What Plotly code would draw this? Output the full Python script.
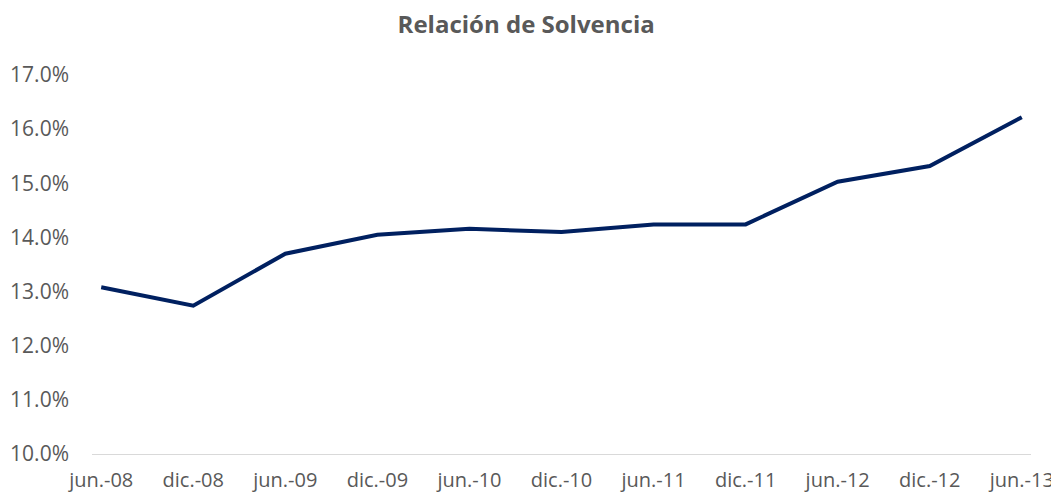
import plotly.graph_objects as go

categories = ["jun.-08", "dic.-08", "jun.-09", "dic.-09", "jun.-10", "dic.-10",
              "jun.-11", "dic.-11", "jun.-12", "dic.-12", "jun.-13"]
solvencia = [0.1308, 0.1274, 0.1370, 0.1405, 0.1416, 0.1410,
             0.1424, 0.1424, 0.1503, 0.1532, 0.1622]
y_ticks = [0.10, 0.11, 0.12, 0.13, 0.14, 0.15, 0.16, 0.17]

fig = go.Figure()
fig.add_trace(go.Scatter(
    x=list(range(len(categories))), y=solvencia, mode="lines",
    line=dict(color="#002060", width=4),
    hoverinfo="skip", showlegend=False,
))

fig.update_layout(
    width=1051, height=485,
    margin=dict(l=84, r=28, t=67, b=39, autoexpand=False),
    paper_bgcolor="white", plot_bgcolor="white",
    title=dict(text="<b>Relación de Solvencia</b>", x=0.493, xanchor="center",
               y=0.965, yanchor="middle",
               font=dict(family="Open Sans", size=24, color="#595959")),
    font=dict(family="Open Sans", color="#595959", size=21),
)
fig.update_xaxes(
    tickmode="array", tickvals=list(range(len(categories))), ticktext=categories,
    range=[-0.1, 10.1], showgrid=False, zeroline=False, automargin=False,
    showline=True, linecolor="#d9d9d9", linewidth=1, ticks="",
    ticklabelstandoff=8,
    tickfont=dict(family="Open Sans", size=20, color="#595959"),
)
fig.update_yaxes(
    range=[0.10, 0.17], tickmode="array", tickvals=y_ticks, tickformat=".1%",
    showgrid=False, zeroline=False, showline=False, ticks="", automargin=False,
    ticklabelstandoff=22,
    tickfont=dict(family="Open Sans", size=21, color="#595959"),
)

fig.write_html("out.html")
